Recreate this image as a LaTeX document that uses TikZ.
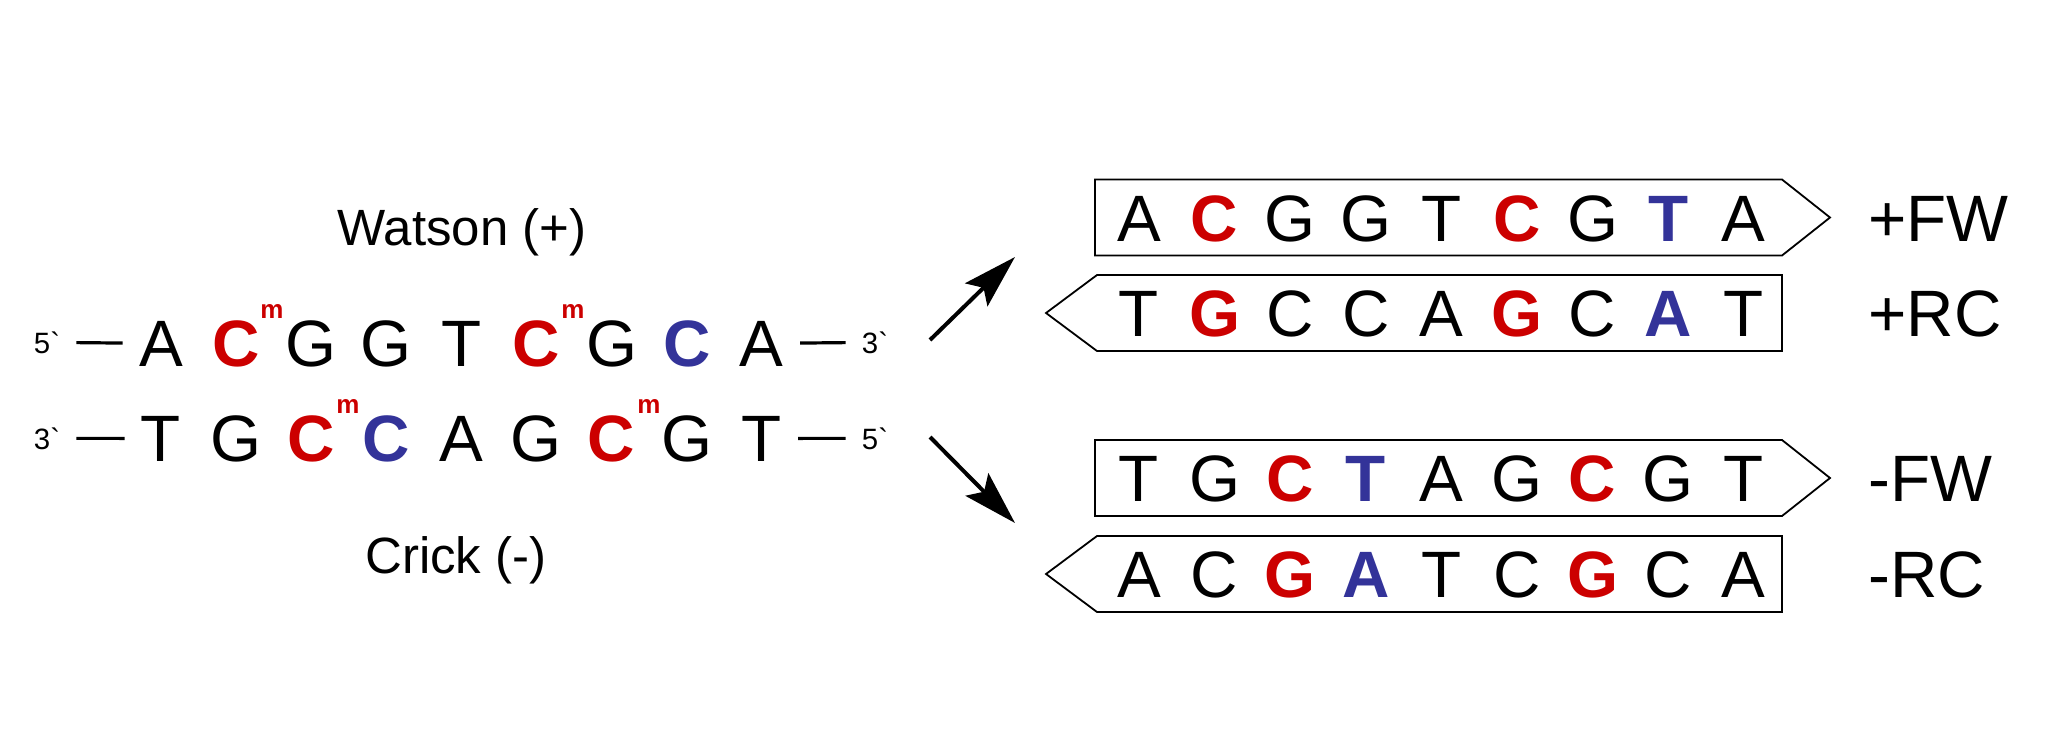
\documentclass[tikz,border=0pt]{standalone}
\usepackage{fontspec}
\setmainfont{Liberation Sans}
\usetikzlibrary{arrows.meta}
\definecolor{methred}{RGB}{204,0,0}
\definecolor{convblue}{RGB}{51,51,153}
\newcommand\ntfont{\fontsize{32.8}{36}\selectfont}
\newcommand\strandfont{\fontsize{25.5}{30}\selectfont}
\newcommand\tipsfont{\fontsize{14.7}{17}\selectfont}
\newcommand\mfont{\fontsize{13}{15}\selectfont\bfseries}
\tikzset{
	nt/.style = {anchor=base, inner sep=0pt, font=\ntfont},
	nt_m/.style = {nt, methred, font=\ntfont\bfseries},% cytosine methylee
	nt_u/.style = {nt, convblue, font=\ntfont\bfseries},% base convertie
	meth/.style = {anchor=base west, inner sep=0pt, methred, font=\mfont},
	end_lbl/.style = {anchor=base, inner sep=0pt, font=\tipsfont},
	strand_lbl/.style = {anchor=base, inner sep=0pt, font=\strandfont},
	read_lbl/.style = {anchor=base west, inner sep=0pt, font=\ntfont},
	strandline/.style = {line width=1.6pt, shorten <=8pt, shorten >=8pt},
	readbox/.style = {draw=black, line width=0.9pt, line join=miter},
	conv_arrow/.style = {-{Stealth[length=27pt, width=16pt, inset=5pt]}, line width=2pt}
}
\begin{document}
\begin{tikzpicture}[x=0.5pt, y=-0.5pt]
	\useasboundingbox (0,0) rectangle (2056,734);
	% brin Watson
	\node[strand_lbl] (watson) at (462,245) {Watson (+)};
	\node[end_lbl] (w_5) at (47,353) {5\textasciigrave};
	\node[nt] (w1) at (161,366) {A};
	\node[nt_m] (w2) at (236.1,366) {C};
	\node[nt] (w3) at (311.2,366) {G};
	\node[nt] (w4) at (386.3,366) {G};
	\node[nt] (w5) at (461.4,366) {T};
	\node[nt_m] (w6) at (536.5,366) {C};
	\node[nt] (w7) at (611.6,366) {G};
	\node[nt_u] (w8) at (686.7,366) {C};
	\node[nt] (w9) at (761.8,366) {A};
	\node[end_lbl] (w_3) at (875,353) {3\textasciigrave};
	\node[meth] (wm2) at (260,318) {m};
	\node[meth] (wm6) at (561,318) {m};
	\draw[strandline] (w_5) -- (w1);
	\draw[strandline] (w9) -- (w_3);
	% brin Crick
	\node[end_lbl] (c_3) at (47,449) {3\textasciigrave};
	\node[nt] (c1) at (161,461) {T};
	\node[nt] (c2) at (236.1,461) {G};
	\node[nt_m] (c3) at (311.2,461) {C};
	\node[nt_u] (c4) at (386.3,461) {C};
	\node[nt] (c5) at (461.4,461) {A};
	\node[nt] (c6) at (536.5,461) {G};
	\node[nt_m] (c7) at (611.6,461) {C};
	\node[nt] (c8) at (686.7,461) {G};
	\node[nt] (c9) at (761.8,461) {T};
	\node[end_lbl] (c_5) at (875,449) {5\textasciigrave};
	\node[meth] (cm3) at (336,413) {m};
	\node[meth] (cm7) at (637,413) {m};
	\draw[strandline] (c_3) -- (c1);
	\draw[strandline] (c9) -- (c_5);
	\node[strand_lbl] (crick) at (456,573) {Crick (-)};
	% fleches
	\coordinate (up_from) at (930,340);
	\coordinate (up_to) at (1015,257);
	\coordinate (down_from) at (930,437);
	\coordinate (down_to) at (1015,523);
	\draw[conv_arrow] (up_from) -- (up_to);
	\draw[conv_arrow] (down_from) -- (down_to);
	% lectures
	\draw[readbox] (1095,179.5) -- (1782,179.5) -- (1830,217.5) -- (1782,255.5) -- (1095,255.5) -- cycle;
	\draw[readbox] (1782,275) -- (1097,275) -- (1046,313) -- (1097,351) -- (1782,351) -- cycle;
	\draw[readbox] (1095,440) -- (1782,440) -- (1830,478) -- (1782,516) -- (1095,516) -- cycle;
	\draw[readbox] (1782,536) -- (1097,536) -- (1046,574) -- (1097,612) -- (1782,612) -- cycle;
	% +FW
	\node[nt] (pf1) at (1139,241) {A};
	\node[nt_m] (pf2) at (1214.6,241) {C};
	\node[nt] (pf3) at (1290.2,241) {G};
	\node[nt] (pf4) at (1365.8,241) {G};
	\node[nt] (pf5) at (1441.4,241) {T};
	\node[nt_m] (pf6) at (1517,241) {C};
	\node[nt] (pf7) at (1592.6,241) {G};
	\node[nt_u] (pf8) at (1668.2,241) {T};
	\node[nt] (pf9) at (1743.8,241) {A};
	\node[read_lbl] (pf_lbl) at (1868,241) {+FW};
	% +RC
	\node[nt] (pr1) at (1139,336.5) {T};
	\node[nt_m] (pr2) at (1214.6,336.5) {G};
	\node[nt] (pr3) at (1290.2,336.5) {C};
	\node[nt] (pr4) at (1365.8,336.5) {C};
	\node[nt] (pr5) at (1441.4,336.5) {A};
	\node[nt_m] (pr6) at (1517,336.5) {G};
	\node[nt] (pr7) at (1592.6,336.5) {C};
	\node[nt_u] (pr8) at (1668.2,336.5) {A};
	\node[nt] (pr9) at (1743.8,336.5) {T};
	\node[read_lbl] (pr_lbl) at (1868,336.5) {+RC};
	% -FW
	\node[nt] (mf1) at (1139,501.5) {T};
	\node[nt] (mf2) at (1214.6,501.5) {G};
	\node[nt_m] (mf3) at (1290.2,501.5) {C};
	\node[nt_u] (mf4) at (1365.8,501.5) {T};
	\node[nt] (mf5) at (1441.4,501.5) {A};
	\node[nt] (mf6) at (1517,501.5) {G};
	\node[nt_m] (mf7) at (1592.6,501.5) {C};
	\node[nt] (mf8) at (1668.2,501.5) {G};
	\node[nt] (mf9) at (1743.8,501.5) {T};
	\node[read_lbl] (mf_lbl) at (1868,501.5) {-FW};
	% -RC
	\node[nt] (mr1) at (1139,597.5) {A};
	\node[nt] (mr2) at (1214.6,597.5) {C};
	\node[nt_m] (mr3) at (1290.2,597.5) {G};
	\node[nt_u] (mr4) at (1365.8,597.5) {A};
	\node[nt] (mr5) at (1441.4,597.5) {T};
	\node[nt] (mr6) at (1517,597.5) {C};
	\node[nt_m] (mr7) at (1592.6,597.5) {G};
	\node[nt] (mr8) at (1668.2,597.5) {C};
	\node[nt] (mr9) at (1743.8,597.5) {A};
	\node[read_lbl] (mr_lbl) at (1868,597.5) {-RC};
\end{tikzpicture}
\end{document}
